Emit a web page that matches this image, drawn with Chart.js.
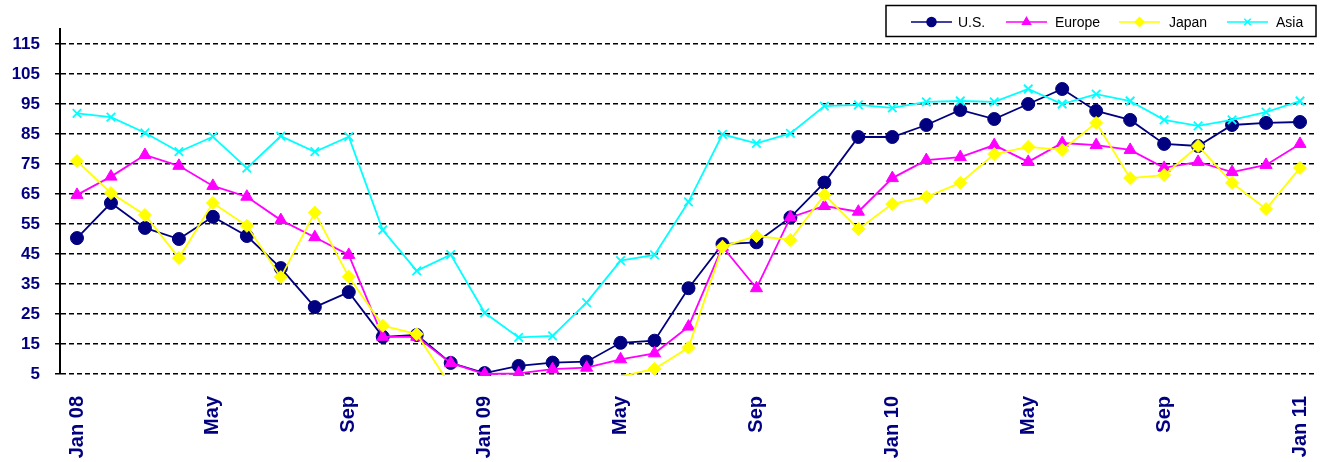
<!DOCTYPE html>
<html>
<head>
<meta charset="utf-8">
<script src="https://cdn.jsdelivr.net/npm/chart.js@4.4.1/dist/chart.umd.min.js"></script>
<style>
  body { margin: 0; background: #fff; }
  #wrap { position: relative; width: 1325px; height: 462px; }
</style>
</head>
<body>
<div id="wrap"><canvas id="chart"></canvas></div>
<script>
// Data
const months = [
    'Jan 08', 'Feb 08', 'Mar 08', 'Apr 08', 'May 08', 'Jun 08', 'Jul 08', 'Aug 08', 'Sep 08', 'Oct 08', 'Nov 08', 'Dec 08',
    'Jan 09', 'Feb 09', 'Mar 09', 'Apr 09', 'May 09', 'Jun 09', 'Jul 09', 'Aug 09', 'Sep 09', 'Oct 09', 'Nov 09', 'Dec 09',
    'Jan 10', 'Feb 10', 'Mar 10', 'Apr 10', 'May 10', 'Jun 10', 'Jul 10', 'Aug 10', 'Sep 10', 'Oct 10', 'Nov 10', 'Dec 10',
    'Jan 11'
];
const tickLabels = [
    'Jan 08', '', '', '', 'May', '', '', '', 'Sep', '', '', '',
    'Jan 09', '', '', '', 'May', '', '', '', 'Sep', '', '', '',
    'Jan 10', '', '', '', 'May', '', '', '', 'Sep', '', '', '',
    'Jan 11'
];
const yTicks = [5, 15, 25, 35, 45, 55, 65, 75, 85, 95, 105, 115];

const usValues = [50.3, 62, 53.7, 50, 57.4, 51, 40.3, 27.3, 32.3, 17.4, 18, 8.7,
    5.3, 7.7, 8.8, 9.1, 15.4, 16.1, 33.6, 48.3, 48.9, 57.2, 68.8, 84,
    84, 88, 93, 90, 95, 100, 92.7, 89.7, 81.7, 81, 88, 88.7, 89];
const europeValues = [64.7, 70.8, 78, 74.4, 67.7, 64.1, 56.3, 50.6, 44.7, 17.4, 17.4, 8.7,
    5, 5.2, 6.6, 7.1, 9.9, 11.9, 20.8, 47.4, 33.6, 57.2, 61, 59.1,
    70.3, 76.3, 77.3, 81.3, 75.7, 82, 81.3, 79.7, 73.7, 75.7, 72.3, 74.7, 81.7];
const japanValues = [76, 65.3, 58, 43.7, 62, 54.4, 37.3, 58.8, 37.4, 21.1, 18.3, 1,
    0, 0, 0, 3.5, 4.2, 6.7, 13.8, 47.4, 51, 49.7, 64.7, 53.3,
    61.7, 64, 68.7, 78.3, 80.7, 79.7, 88.7, 70.3, 71.3, 81, 68.7, 60, 73.7];
const asiaValues = [91.9, 90.6, 85.4, 79.1, 84.1, 73.6, 84.3, 79.1, 84.1, 53, 39.4, 44.8,
    25.4, 17.2, 17.7, 28.8, 42.8, 44.7, 62.4, 84.9, 81.9, 85.2, 94.3, 94.7,
    93.7, 95.7, 96, 95.7, 100, 95, 98.3, 96, 89.7, 87.7, 89.7, 92.3, 96];

const FONT = "'Liberation Sans', Arial, sans-serif";
const NAVY = '#000080';

// hide markers that fall below the axis minimum (like Excel)
const hideBelow = size => ctx => (ctx.raw < 5 ? 0 : size);

const series = [
    { label: 'U.S.', data: usValues, color: NAVY, pointStyle: 'circle', radius: 6.5, order: 4 },
    { label: 'Europe', data: europeValues, color: '#FF00FF', pointStyle: 'triangle', radius: 7, order: 3 },
    { label: 'Japan', data: japanValues, color: '#FFFF00', pointStyle: 'rectRot', radius: 6.5, order: 2 },
    { label: 'Asia', data: asiaValues, color: '#00FFFF', pointStyle: 'crossRot', radius: 6, order: 1 }
];

// Legend drawn on canvas (line + marker, boxed)
const boxLegend = {
    id: 'boxLegend',
    afterDraw(chart) {
        const ctx = chart.ctx;
        ctx.save();
        ctx.lineWidth = 1.5;
        ctx.strokeStyle = '#000';
        ctx.strokeRect(886, 5.5, 430, 31);

        const items = [
            { x: 911, tx: 958 },
            { x: 1006, tx: 1055 },
            { x: 1119, tx: 1169 },
            { x: 1227, tx: 1276 }
        ];
        const y = 22;
        ctx.font = '14px ' + FONT;
        ctx.textBaseline = 'middle';
        ctx.textAlign = 'left';
        series.forEach((s, i) => {
            const it = items[i];
            ctx.strokeStyle = s.color;
            ctx.fillStyle = s.color;
            ctx.lineWidth = 1.5;
            ctx.beginPath();
            ctx.moveTo(it.x, y);
            ctx.lineTo(it.x + 41, y);
            ctx.stroke();
            Chart.helpers.drawPoint(ctx, {
                pointStyle: s.pointStyle,
                radius: 4.5,
                rotation: 0,
                borderWidth: 1.5
            }, it.x + 20.5, y);
            ctx.fillStyle = '#000';
            ctx.fillText(s.label, it.tx, y + 1);
        });
        ctx.restore();
    }
};

const ctx = document.getElementById('chart').getContext('2d');
new Chart(ctx, {
    type: 'line',
    data: {
        labels: months,
        datasets: series.map(s => ({
            label: s.label,
            data: s.data,
            borderColor: s.color,
            backgroundColor: s.color,
            borderWidth: 1.8,
            pointStyle: s.pointStyle,
            pointRadius: hideBelow(s.radius),
            pointBorderWidth: s.pointStyle === 'crossRot' ? 1.8 : 1,
            pointBorderColor: s.color,
            pointBackgroundColor: s.color,
            tension: 0,
            fill: false,
            order: s.order,
            clip: { left: 10, top: 10, right: 10, bottom: 2 }
        }))
    },
    options: {
        responsive: true,
        maintainAspectRatio: false,
        animation: false,
        devicePixelRatio: 1,
        layout: { padding: { top: 29, right: 7, left: 0, bottom: 0 } },
        plugins: {
            legend: { display: false },
            tooltip: { enabled: false }
        },
        scales: {
            x: {
                offset: true,
                grid: { display: false, drawTicks: false },
                border: { display: false },
                ticks: {
                    autoSkip: false,
                    maxRotation: 90,
                    minRotation: 90,
                    padding: 22,
                    color: NAVY,
                    font: { family: FONT, size: 20, weight: 'bold' },
                    callback: (val, i) => tickLabels[i]
                },
                afterFit: scale => {
                    scale.height = 88;
                    scale.paddingLeft = 0;
                    scale.paddingRight = 0;
                }
            },
            y: {
                min: 5,
                max: 120,
                afterBuildTicks: scale => {
                    scale.ticks = yTicks.map(v => ({ value: v }));
                },
                afterFit: scale => { scale.width = 60; },
                grid: {
                    color: '#000',
                    lineWidth: 1.5,
                    drawTicks: true,
                    tickLength: 5
                },
                border: { display: true, color: '#000', width: 2, dash: [5, 3] },
                ticks: {
                    padding: 15,
                    color: NAVY,
                    font: { family: FONT, size: 17, weight: 'bold' }
                }
            }
        }
    },
    plugins: [boxLegend]
});
</script>
</body>
</html>
